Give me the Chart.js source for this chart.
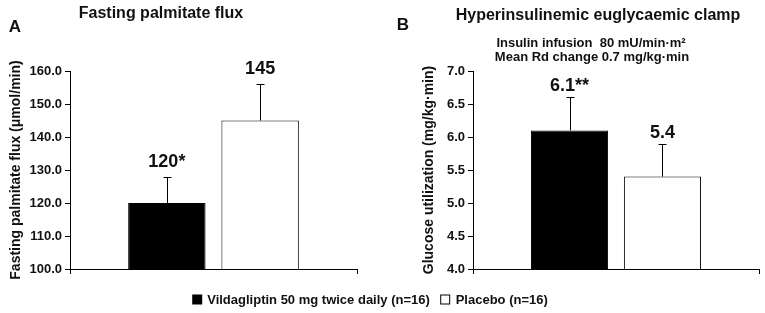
<!DOCTYPE html>
<html>
<head>
<meta charset="utf-8">
<script src="https://cdn.jsdelivr.net/npm/chart.js@4.4.0/dist/chart.umd.min.js"></script>
<style>
  body { margin: 0; background: #fff; }
  #wrap { position: relative; width: 765px; height: 313px; overflow: hidden; font-family: "Liberation Sans", Arial, sans-serif; font-weight: bold; color: #111; }
  canvas { position: absolute; top: 0; }
  .txt { position: absolute; transform: translate(-50%, -50%); white-space: nowrap; }
  .panel { font-size: 17px; }
  .title { font-size: 16px; }
  .sub { font-size: 13px; }
  #legend { position: absolute; left: 370px; top: 299px; transform: translate(-50%, -50%); font-size: 13px; white-space: nowrap; }
  .sw { display: inline-block; width: 10px; height: 10px; vertical-align: -1px; margin-right: 5px; box-sizing: border-box; }
</style>
</head>
<body>
<div id="wrap">
  <canvas id="chartA" width="380" height="313" style="left:0"></canvas>
  <canvas id="chartB" width="385" height="313" style="left:380px"></canvas>

  <div class="txt panel" style="left:15px;top:27px">A</div>
  <div class="txt title" style="left:161px;top:13px">Fasting palmitate flux</div>

  <div class="txt panel" style="left:403px;top:25px">B</div>
  <div class="txt title" style="left:598px;top:15px">Hyperinsulinemic euglycaemic clamp</div>
  <div class="txt sub" style="left:591px;top:42px">Insulin infusion&nbsp; 80 mU/min·m²</div>
  <div class="txt sub" style="left:592px;top:56px">Mean Rd change 0.7 mg/kg·min</div>

  <div id="legend">
    <span class="sw" style="background:#000"></span>Vildagliptin 50 mg twice daily (n=16)&nbsp;&nbsp;
    <span class="sw" style="background:#fff;border:1px solid #000"></span>Placebo (n=16)
  </div>
</div>

<script>
const seriesNames = ["Vildagliptin 50 mg twice daily (n=16)", "Placebo (n=16)"];
const categories = [""];

// panel A
const palmitateValues = [120, 145];
const palmitateErrors = [8, 11];
const palmitateLabels = ["120*", "145"];
const palmitateTicks = [100, 160, 10];

// panel B
const glucoseValues = [6.1, 5.4];
const glucoseErrors = [0.5, 0.5];
const glucoseLabels = ["6.1**", "5.4"];
const glucoseTicks = [4, 7, 0.5];

const fontFamily = "'Liberation Sans', Arial, sans-serif";

// error bars (upper half only) and value labels on top
const errorBarPlugin = {
  id: "errorBars",
  afterDatasetsDraw(chart, args, opts) {
    const ctx = chart.ctx;
    const yScale = chart.scales.y;
    ctx.save();
    chart.data.datasets.forEach((ds, i) => {
      const bar = chart.getDatasetMeta(i).data[0];
      const top = yScale.getPixelForValue(ds.data[0] + ds.err[0]);
      const x = Math.round(bar.x) + 0.5;
      ctx.strokeStyle = "#000";
      ctx.lineWidth = 1;
      ctx.beginPath();
      ctx.moveTo(x, bar.y);
      ctx.lineTo(x, Math.round(top) + 0.5);
      ctx.moveTo(x - 4, Math.round(top) + 0.5);
      ctx.lineTo(x + 4, Math.round(top) + 0.5);
      ctx.stroke();

      ctx.fillStyle = "#111";
      ctx.font = "bold 18px " + fontFamily;
      ctx.textAlign = "center";
      ctx.textBaseline = "alphabetic";
      ctx.fillText(ds.valueLabel[0], bar.x, top - opts.gap);
    });
    ctx.restore();
  },
};

function makeChart(id, values, errors, labels, ticks, yTitle, pad, axisWidth, gap) {
  return new Chart(document.getElementById(id), {
    type: "bar",
    data: {
      labels: categories,
      datasets: [
        {
          label: seriesNames[0],
          data: [values[0]],
          err: [errors[0]],
          valueLabel: [labels[0]],
          backgroundColor: "#000",
          borderColor: "#000",
          borderWidth: 1,
        },
        {
          label: seriesNames[1],
          data: [values[1]],
          err: [errors[1]],
          valueLabel: [labels[1]],
          backgroundColor: "#fff",
          borderColor: "#000",
          borderWidth: 1,
        },
      ],
    },
    options: {
      responsive: false,
      animation: false,
      devicePixelRatio: 1,
      categoryPercentage: 0.65,
      barPercentage: 0.83,
      layout: { padding: pad },
      plugins: {
        legend: { display: false },
        tooltip: { enabled: false },
        errorBars: { gap: gap },
      },
      scales: {
        x: {
          ticks: { display: false },
          grid: { drawOnChartArea: false, drawTicks: true, tickLength: 5, color: "#000" },
          border: { color: "#000", width: 1 },
          afterFit: (s) => { s.height = 44; },
        },
        y: {
          min: ticks[0],
          max: ticks[1],
          ticks: {
            stepSize: ticks[2],
            padding: 3,
            color: "#111",
            font: { family: fontFamily, size: 13, weight: "bold" },
            callback: (v) => Number(v).toFixed(1),
          },
          grid: { drawOnChartArea: false, drawTicks: true, tickLength: 5, color: "#000" },
          border: { color: "#000", width: 1 },
          title: {
            display: true,
            text: yTitle,
            color: "#111",
            padding: 4,
            font: { family: fontFamily, size: 14, weight: "bold" },
          },
          afterFit: (s) => { s.width = axisWidth; },
        },
      },
    },
    plugins: [errorBarPlugin],
  });
}

makeChart("chartA", palmitateValues, palmitateErrors, palmitateLabels, palmitateTicks,
  "Fasting palmitate flux (μmol/min)", { top: 71, right: 23, bottom: 0, left: 4 }, 66, 10);

makeChart("chartB", glucoseValues, glucoseErrors, glucoseLabels, glucoseTicks,
  "Glucose utilization (mg/kg·min)", { top: 71, right: 6, bottom: 0, left: 37 }, 56, 6);
</script>
</body>
</html>
